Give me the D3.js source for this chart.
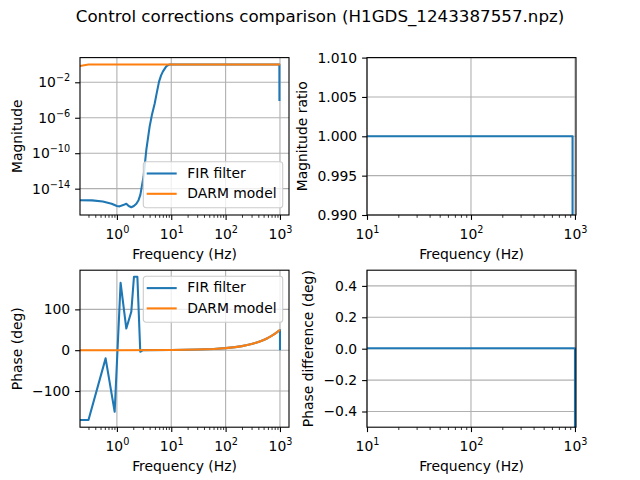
<!DOCTYPE html>
<html>
<head>
<meta charset="utf-8">
<script src="https://cdn.jsdelivr.net/npm/d3@7"></script>
<style>
body { margin: 0; background: #fff; }
text { font-family: "DejaVu Sans", sans-serif; fill: #000; }
</style>
</head>
<body>
<svg id="drawing_region"></svg>
<script>
const title = 'Control corrections comparison (H1GDS_1243387557.npz)';
const seriesNames = ['FIR filter', 'DARM model'];
const seriesColors = ['#1f77b4', '#ff7f0e'];

// magnitude (top left)
const firMagFreq = [0.21, 0.35, 0.55, 0.8, 1.0, 1.12, 1.3, 1.49, 1.65, 1.84, 2.05, 2.28, 2.5, 2.7, 2.9, 3.1, 3.3, 3.48, 3.75, 4.0, 4.4, 4.96, 5.4, 5.96, 6.5, 7.0, 7.6, 8.1, 8.7, 9.3, 30, 100, 400, 975, 978];
const firMag = [5.0e-16, 4.8e-16, 3.5e-16, 2.0e-16, 1.1e-16, 1.0e-16, 1.4e-16, 2.0e-16, 1.1e-16, 8.0e-17, 1.1e-16, 2.0e-16, 5.0e-16, 2.0e-15, 2.5e-14, 2.5e-13, 1.0e-11, 2.5e-10, 6.0e-9, 1.0e-7, 2.0e-6, 4.0e-5, 6.0e-4, 1.2e-2, 6.0e-2, 0.16, 0.35, 0.63, 0.85, 1.0, 1.0, 1.0, 1.0, 1.0, 8.0e-5];
const darmMagFreq = [0.21, 0.25, 0.3, 1, 10, 100, 1000];
const darmMag = [0.7, 0.85, 1.0, 1.0, 1.0, 1.0, 1.0];

// phase (bottom left)
const firPhaseFreq = [0.21, 0.3, 0.62, 0.91, 1.17, 1.49, 1.84, 2.06, 2.38, 2.69, 3.0, 10, 30, 60, 100, 150, 200, 250, 300, 350, 400, 450, 500, 550, 600, 650, 700, 750, 800, 850, 900, 950, 1000, 1001];
const firPhase = [-171, -171, -20, -151, 165, 53, 94, 180, 180, -4, 0.15, 0.5, 1.5, 3, 5, 7.5, 10, 12.5, 15, 17.5, 20, 22.5, 25, 27.5, 30, 32.5, 35, 37.5, 40, 42.5, 45, 47.5, 49, 0];
const darmPhaseFreq = [0.21, 1, 10, 30, 60, 100, 150, 200, 250, 300, 350, 400, 450, 500, 550, 600, 650, 700, 750, 800, 850, 900, 950, 1000];
const darmPhase = [0, 0.05, 0.5, 1.5, 3, 5, 7.5, 10, 12.5, 15, 17.5, 20, 22.5, 25, 27.5, 30, 32.5, 35, 37.5, 40, 42.5, 45, 47.5, 50];

// ratio (top right) and phase difference (bottom right)
const ratioFreq = [10, 100, 948, 949];
const ratioVal = [1.0, 1.0, 1.0, 0.95];
const phaseDiffFreq = [10, 100, 1000, 1001];
const phaseDiffVal = [0.003, 0.003, 0.003, -5];

// tick values
const wideFreqTicks = [1, 10, 100, 1000];
const narrowFreqTicks = [10, 100, 1000];
const magTicks = [1e-14, 1e-10, 1e-6, 1e-2];
const phaseTicks = [-100, 0, 100];
const ratioTicks = [0.990, 0.995, 1.000, 1.005, 1.010];
const phaseDiffTicks = [-0.4, -0.2, 0.0, 0.2, 0.4];

const svg = d3.select('#drawing_region').attr('width', 640).attr('height', 480);

svg.append('text')
  .attr('x', 320).attr('y', 22)
  .attr('text-anchor', 'middle')
  .attr('font-size', 16.7)
  .text(title);

const minus = s => String(s).replace('-', '\u2212');

function powLabel(sel) {
  sel.each(function(d) {
    const t = d3.select(this);
    const e = Math.round(Math.log10(d));
    t.text(null);
    t.append('tspan').text('10');
    t.append('tspan').attr('dy', -6).attr('font-size', 9.7).text(minus(e));
  });
}

function minorLog(domain) {
  const out = [];
  for (let k = -3; k <= 4; k++) {
    for (let m = 2; m <= 9; m++) {
      const v = m * Math.pow(10, k);
      if (v >= domain[0] && v <= domain[1]) out.push(v);
    }
  }
  return out;
}

function drawPanel(p) {
  const x = d3.scaleLog().domain(p.xDomain).range([p.left, p.left + p.width]);
  const y = (p.yLog ? d3.scaleLog() : d3.scaleLinear())
    .domain(p.yDomain).range([p.top + p.height, p.top]);
  const g = svg.append('g');

  // grid
  g.append('g').selectAll('line').data(p.xTicks).join('line')
    .attr('x1', d => x(d)).attr('x2', d => x(d))
    .attr('y1', p.top).attr('y2', p.top + p.height)
    .attr('stroke', '#b0b0b0').attr('stroke-width', 1.1);
  g.append('g').selectAll('line').data(p.yTicks).join('line')
    .attr('x1', p.left).attr('x2', p.left + p.width)
    .attr('y1', d => y(d)).attr('y2', d => y(d))
    .attr('stroke', '#b0b0b0').attr('stroke-width', 1.1);

  // lines
  svg.append('clipPath').attr('id', 'clip' + p.id)
    .append('rect')
    .attr('x', p.left).attr('y', p.top)
    .attr('width', p.width).attr('height', p.height);
  const lines = g.append('g').attr('clip-path', `url(#clip${p.id})`);
  const line = d3.line().x(d => x(d[0])).y(d => y(d[1]));
  p.series.forEach(s => {
    lines.append('path')
      .datum(d3.zip(s.x, s.y))
      .attr('fill', 'none')
      .attr('stroke', s.color)
      .attr('stroke-width', 2.08)
      .attr('stroke-linejoin', 'round')
      .attr('d', line);
  });

  // frame
  g.append('rect')
    .attr('x', p.left).attr('y', p.top)
    .attr('width', p.width).attr('height', p.height)
    .attr('fill', 'none').attr('stroke', '#000').attr('stroke-width', 1.1);

  // x axis
  const xa = g.append('g').attr('transform', `translate(0,${p.top + p.height})`)
    .call(d3.axisBottom(x).tickValues(p.xTicks).tickSize(4.9).tickPadding(4.9));
  xa.select('.domain').remove();
  xa.attr('font-size', 13.9).attr('font-family', 'DejaVu Sans');
  xa.selectAll('line').attr('stroke-width', 1.1);
  xa.selectAll('text').attr('y', 24).attr('dy', null).call(powLabel);

  const xm = g.append('g').attr('transform', `translate(0,${p.top + p.height})`)
    .call(d3.axisBottom(x).tickValues(minorLog(p.xDomain)).tickSize(2.8).tickFormat(''));
  xm.select('.domain').remove();
  xm.selectAll('line').attr('stroke-width', 0.8);

  // y axis
  const ya = g.append('g').attr('transform', `translate(${p.left},0)`)
    .call(d3.axisLeft(y).tickValues(p.yTicks).tickSize(4.9).tickPadding(4.9));
  ya.select('.domain').remove();
  ya.attr('font-size', 13.9).attr('font-family', 'DejaVu Sans');
  ya.selectAll('line').attr('stroke-width', 1.1);
  if (p.yLog) ya.selectAll('text').call(powLabel);
  else ya.selectAll('text').text(d => minus(p.yFormat(d)));

  // labels
  g.append('text')
    .attr('x', p.left + p.width / 2).attr('y', p.top + p.height + 43.7)
    .attr('text-anchor', 'middle').attr('font-size', 13.9)
    .text('Frequency (Hz)');
  g.append('text')
    .attr('transform', `translate(${p.yLabelX},${p.top + p.height / 2}) rotate(-90)`)
    .attr('text-anchor', 'middle').attr('font-size', 13.9)
    .text(p.yLabel);
}

function drawLegend(lx, ly) {
  const lg = svg.append('g').attr('transform', `translate(${lx},${ly})`);
  lg.append('rect')
    .attr('width', 139.4).attr('height', 46).attr('rx', 2.8)
    .attr('fill', '#fff').attr('fill-opacity', 0.8)
    .attr('stroke', '#cccccc').attr('stroke-width', 1.1);
  seriesNames.forEach((name, i) => {
    const yy = 11.8 + i * 20.3;
    lg.append('line')
      .attr('x1', 3.4).attr('x2', 33.4).attr('y1', yy).attr('y2', yy)
      .attr('stroke', seriesColors[i]).attr('stroke-width', 2.08);
    lg.append('text')
      .attr('x', 44).attr('y', yy).attr('dy', '0.3em')
      .attr('font-size', 13.9)
      .text(name);
  });
}

drawPanel({
  id: 'mag', left: 80, top: 57.6, width: 209, height: 157.4,
  xDomain: [0.2095, 1466], yDomain: [1.07e-17, 6.1], yLog: true,
  xTicks: wideFreqTicks, yTicks: magTicks,
  yLabel: 'Magnitude', yLabelX: 22,
  series: [
    { x: firMagFreq, y: firMag, color: seriesColors[0] },
    { x: darmMagFreq, y: darmMag, color: seriesColors[1] }
  ]
});
drawLegend(143.3, 161.7);

drawPanel({
  id: 'ratio', left: 367, top: 57.6, width: 209, height: 157.4,
  xDomain: [10, 1023], yDomain: [0.99, 1.01], yLog: false,
  xTicks: narrowFreqTicks, yTicks: ratioTicks, yFormat: d3.format('.3f'),
  yLabel: 'Magnitude ratio', yLabelX: 307,
  series: [{ x: ratioFreq, y: ratioVal, color: seriesColors[0] }]
});

drawPanel({
  id: 'phase', left: 80, top: 270.2, width: 209, height: 157,
  xDomain: [0.2095, 1466], yDomain: [-188.7, 196], yLog: false,
  xTicks: wideFreqTicks, yTicks: phaseTicks, yFormat: d3.format('d'),
  yLabel: 'Phase (deg)', yLabelX: 22,
  series: [
    { x: firPhaseFreq, y: firPhase, color: seriesColors[0] },
    { x: darmPhaseFreq, y: darmPhase, color: seriesColors[1] }
  ]
});
drawLegend(143.3, 276.3);

drawPanel({
  id: 'pdiff', left: 367, top: 270.2, width: 209, height: 157,
  xDomain: [10, 1023], yDomain: [-0.5, 0.5], yLog: false,
  xTicks: narrowFreqTicks, yTicks: phaseDiffTicks, yFormat: d3.format('.1f'),
  yLabel: 'Phase difference (deg)', yLabelX: 313,
  series: [{ x: phaseDiffFreq, y: phaseDiffVal, color: seriesColors[0] }]
});
</script>
</body>
</html>
